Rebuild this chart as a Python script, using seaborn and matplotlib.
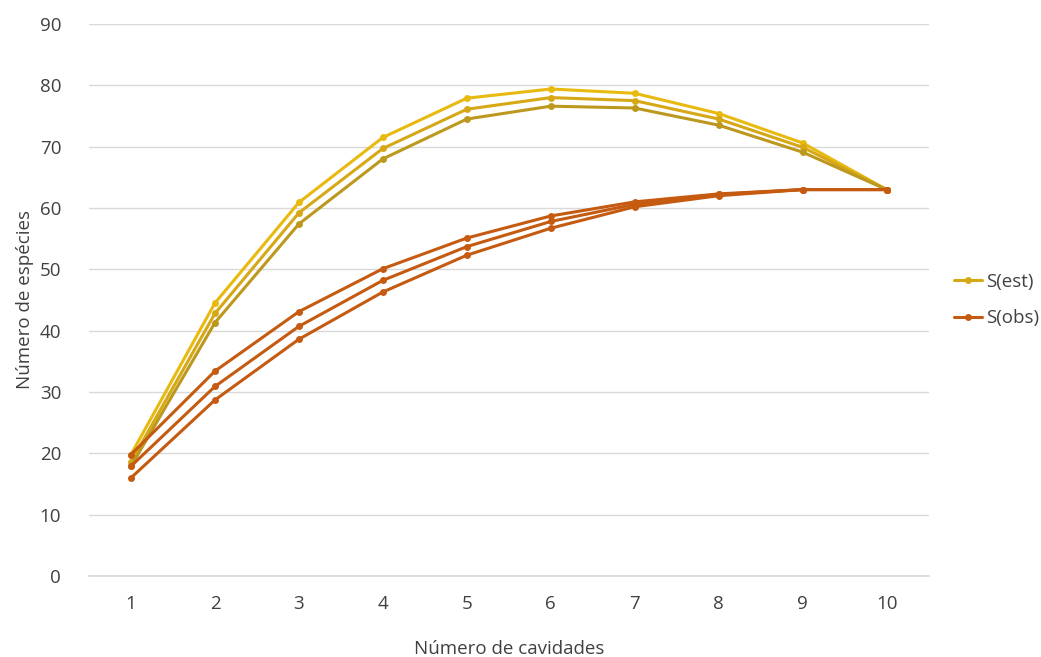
import pandas as pd
import matplotlib.pyplot as plt
import seaborn as sns

# Data
cavidades = [1, 2, 3, 4, 5, 6, 7, 8, 9, 10]

s_est_upper = [19.8, 44.5, 60.9, 71.5, 77.9, 79.4, 78.7, 75.4, 70.6, 63.0]
s_est = [18.6, 42.8, 59.2, 69.7, 76.1, 78.0, 77.5, 74.5, 69.9, 63.0]
s_est_lower = [17.9, 41.3, 57.4, 68.0, 74.5, 76.6, 76.3, 73.5, 69.1, 63.0]

s_obs_upper = [19.8, 33.4, 43.1, 50.1, 55.1, 58.7, 61.0, 62.3, 63.0, 63.0]
s_obs = [17.9, 30.9, 40.7, 48.2, 53.7, 57.8, 60.6, 62.2, 63.0, 63.0]
s_obs_lower = [16.0, 28.7, 38.6, 46.3, 52.3, 56.7, 60.2, 62.0, 63.0, 63.0]

# Set the theme and size of the plot
sns.set_theme(style='white')
plt.rcParams['font.family'] = ['Open Sans', 'DejaVu Sans']

fig = plt.figure(figsize=(10.41, 6.57), dpi=100)
ax = fig.add_axes([0.0855, 0.1233, 0.8065, 0.8402])

# series: (values, colour, legend label)
series = [
    (s_est_upper, '#E8B90E', '_nolegend_'),
    (s_est, '#D6A816', 'S(est)'),
    (s_est_lower, '#BC981E', '_nolegend_'),
    (s_obs_upper, '#C55A11', '_nolegend_'),
    (s_obs, '#C55A11', 'S(obs)'),
    (s_obs_lower, '#C55A11', '_nolegend_'),
]

for values, color, label in series:
    df = pd.DataFrame({'Cavidades': cavidades, 'Especies': values})
    sns.lineplot(data=df, x='Cavidades', y='Especies', color=color, marker='o',
                 markersize=5, markeredgewidth=0, linewidth=2.2, label=label, ax=ax)

# Axis limits and ticks
ax.set_xlim(0.5, 10.5)
ax.set_ylim(0, 90)
ax.set_xticks(cavidades)
ax.set_yticks(range(0, 91, 10))
ax.tick_params(axis='both', length=0, labelsize=13.5, labelcolor='#404040')
ax.tick_params(axis='y', pad=20)
ax.tick_params(axis='x', pad=14)

# Grid and spines
ax.grid(axis='y', color='#D9D9D9', linewidth=1)
ax.set_axisbelow(True)
for side in ['left', 'right', 'top']:
    ax.spines[side].set_visible(False)
ax.spines['bottom'].set_color('#D9D9D9')

# Labels
ax.set_xlabel('Número de cavidades', fontsize=13.5, color='#404040', labelpad=19)
ax.set_ylabel('Número de espécies', fontsize=13.5, color='#404040', labelpad=4)

# Legend outside on the right
ax.legend(loc='center left', bbox_to_anchor=(1.01, 0.5), frameon=False,
          fontsize=13.5, labelcolor='#404040', handlelength=1.5, handletextpad=0.2,
          labelspacing=1.0)

fig.savefig('out.png', dpi=100)
